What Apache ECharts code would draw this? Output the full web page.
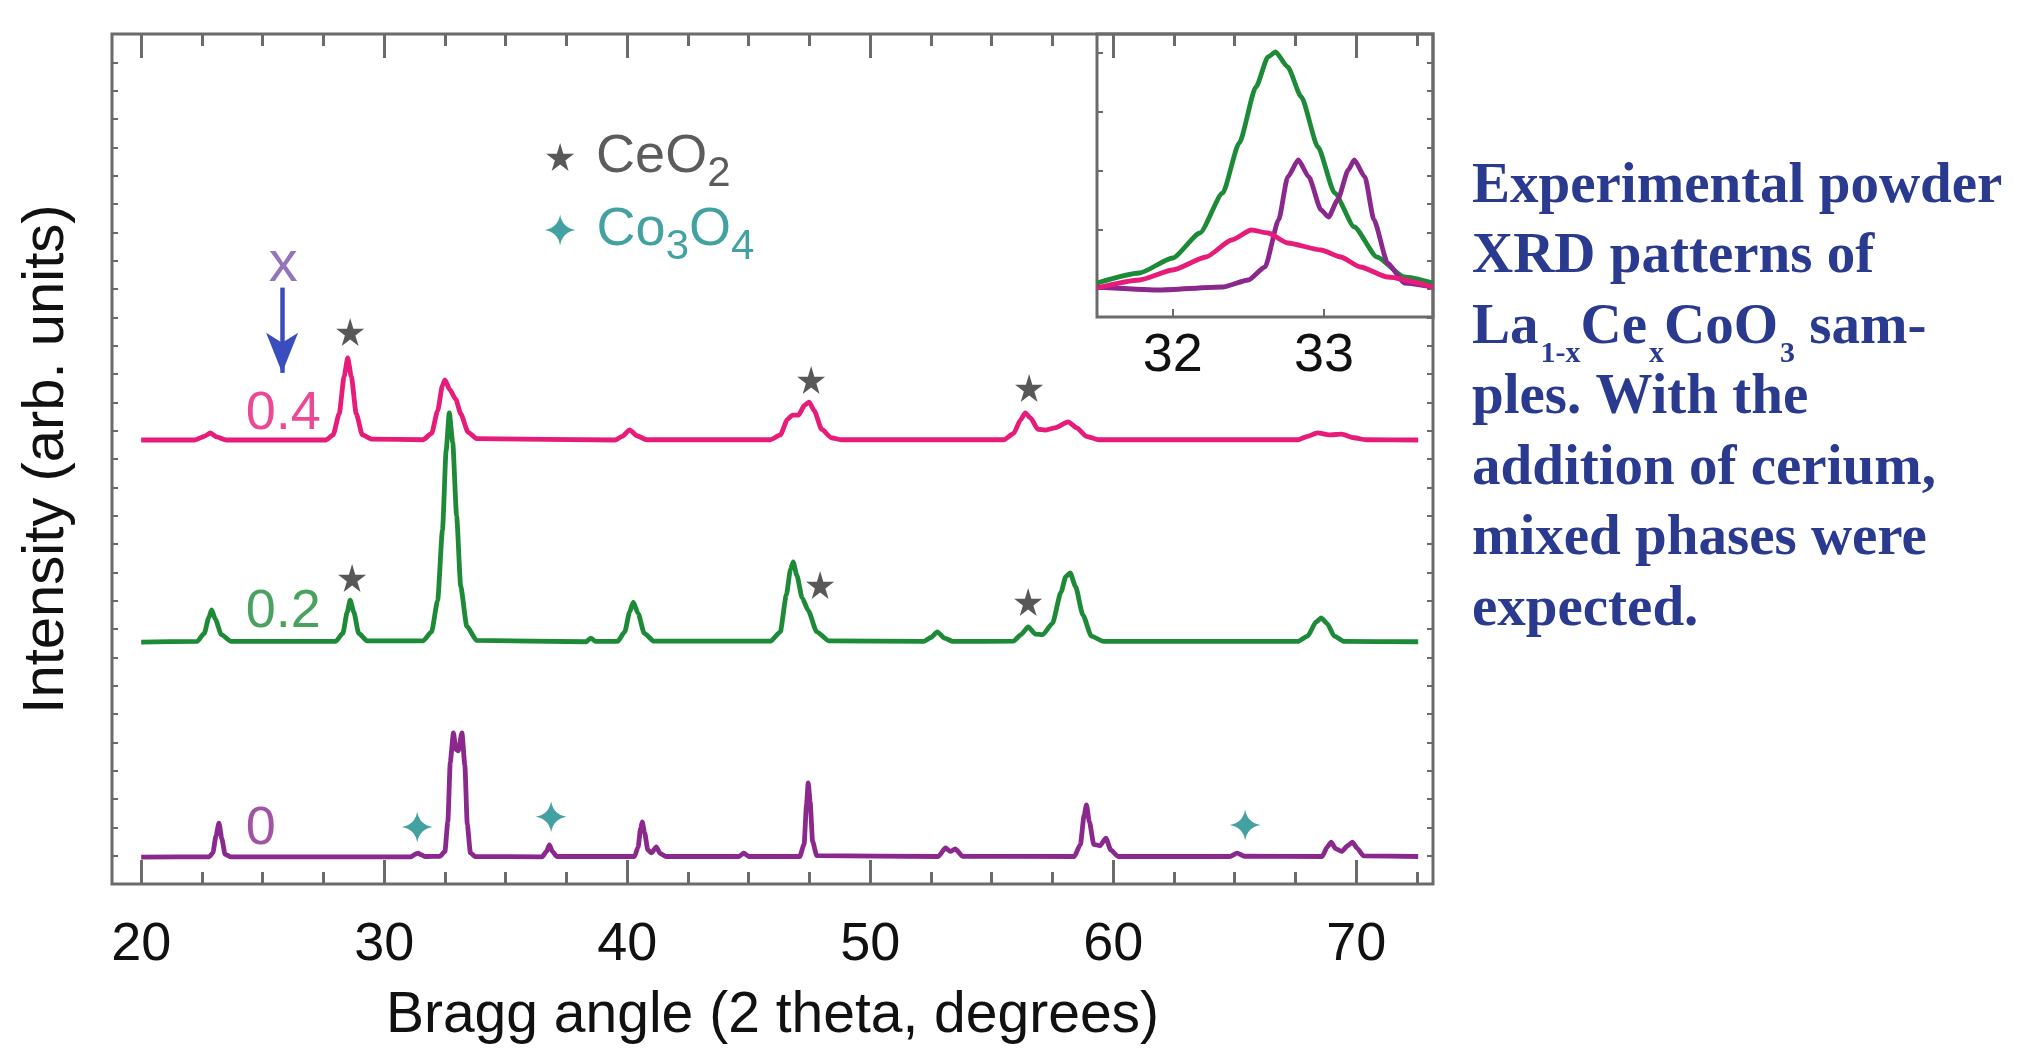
<!DOCTYPE html>
<html>
<head>
<meta charset="utf-8">
<title>XRD La1-xCexCoO3</title>
<script src="https://cdn.jsdelivr.net/npm/echarts@6/dist/echarts.min.js"></script>
<style>
  html, body { margin: 0; padding: 0; background: #ffffff; }
  #main { width: 2022px; height: 1049px; }
</style>
</head>
<body>
<div id="main"></div>
<script>
  // 2 theta (deg), intensity (arb. units, vertical offset of each sample included)
  var curveX04 = [
    [20.0, 15.67], [22.2, 15.67], [22.6, 15.8], [22.85, 15.92], [23.1, 15.78], [23.5, 15.67],
    [27.6, 15.67], [27.9, 15.85], [28.15, 16.6], [28.35, 17.9], [28.5, 18.57], [28.65, 17.9], [28.85, 16.6], [29.1, 15.85], [29.5, 15.7],
    [31.6, 15.68], [31.95, 15.9], [32.2, 16.7], [32.4, 17.6], [32.5, 17.79], [32.7, 17.45], [32.95, 17.1], [33.15, 16.6], [33.45, 15.95], [33.8, 15.72],
    [39.5, 15.67], [39.8, 15.8], [40.1, 16.03], [40.4, 15.82], [40.8, 15.68],
    [45.9, 15.68], [46.3, 15.85], [46.6, 16.4], [46.8, 16.55], [47.05, 16.55], [47.3, 16.9], [47.49, 17.01], [47.7, 16.7], [48.0, 16.05], [48.4, 15.75], [48.8, 15.68],
    [55.5, 15.68], [55.9, 15.9], [56.2, 16.4], [56.38, 16.63], [56.6, 16.45], [56.9, 16.05], [57.2, 16.02], [57.6, 16.1], [58.15, 16.31], [58.5, 16.1], [58.9, 15.8], [59.4, 15.68],
    [67.6, 15.68], [68.0, 15.8], [68.4, 15.92], [68.9, 15.85], [69.4, 15.88], [69.9, 15.75], [70.4, 15.68], [72.55, 15.67]
  ];
  var curveX02 = [
    [20.0, 8.54], [22.3, 8.56], [22.6, 8.85], [22.78, 9.4], [22.9, 9.67], [23.05, 9.35], [23.3, 8.8], [23.7, 8.56],
    [28.0, 8.56], [28.3, 8.85], [28.48, 9.6], [28.6, 10.02], [28.75, 9.6], [28.95, 8.85], [29.3, 8.58],
    [31.6, 8.58], [31.95, 8.9], [32.2, 10.0], [32.4, 12.5], [32.55, 15.3], [32.68, 16.63], [32.82, 15.6], [32.98, 13.0], [33.15, 10.5], [33.4, 9.1], [33.8, 8.6],
    [38.3, 8.55], [38.5, 8.68], [38.7, 8.56],
    [39.6, 8.56], [39.9, 8.9], [40.1, 9.6], [40.25, 9.95], [40.45, 9.55], [40.7, 8.85], [41.1, 8.57],
    [45.9, 8.57], [46.3, 8.9], [46.55, 10.2], [46.72, 11.1], [46.83, 11.37], [46.98, 10.9], [47.2, 10.1], [47.45, 9.65], [47.8, 8.9], [48.3, 8.58],
    [52.2, 8.56], [52.5, 8.7], [52.76, 8.9], [53.05, 8.68], [53.4, 8.56],
    [55.9, 8.57], [56.2, 8.8], [56.5, 9.07], [56.8, 8.82], [57.1, 8.8], [57.5, 9.2], [57.85, 10.3], [58.05, 10.85], [58.23, 10.98], [58.45, 10.5], [58.75, 9.5], [59.1, 8.75], [59.6, 8.56],
    [67.6, 8.56], [68.0, 8.75], [68.35, 9.25], [68.56, 9.39], [68.8, 9.2], [69.1, 8.75], [69.5, 8.56], [72.55, 8.55]
  ];
  var curveX0 = [
    [20.0, 0.95], [22.8, 0.96], [22.95, 1.1], [23.08, 1.7], [23.2, 2.15], [23.32, 1.6], [23.45, 1.05], [23.7, 0.96],
    [31.1, 0.96], [31.3, 1.06], [31.4, 1.09], [31.5, 1.04], [31.7, 0.97],
    [32.3, 0.98], [32.5, 1.15], [32.62, 2.2], [32.72, 4.3], [32.85, 5.33], [32.95, 4.75], [33.05, 4.7], [33.2, 5.33], [33.32, 4.2], [33.42, 2.1], [33.55, 1.1], [33.75, 0.97],
    [36.5, 0.96], [36.68, 1.15], [36.8, 1.38], [36.92, 1.15], [37.1, 0.97],
    [40.3, 0.97], [40.45, 1.3], [40.55, 1.95], [40.62, 2.19], [40.72, 1.8], [40.85, 1.2], [41.0, 1.1], [41.2, 1.31], [41.35, 1.08], [41.6, 0.97],
    [44.6, 0.97], [44.8, 1.09], [45.0, 0.97],
    [47.1, 0.97], [47.28, 1.4], [47.38, 2.8], [47.45, 3.57], [47.53, 2.9], [47.63, 1.5], [47.8, 1.0],
    [52.8, 0.97], [53.1, 1.27], [53.3, 1.15], [53.5, 1.24], [53.8, 0.98],
    [58.4, 0.97], [58.65, 1.4], [58.8, 2.4], [58.9, 2.79], [59.02, 2.2], [59.2, 1.4], [59.45, 1.35], [59.7, 1.62], [59.9, 1.2], [60.2, 0.97],
    [64.8, 0.97], [65.1, 1.09], [65.4, 0.98],
    [68.6, 0.97], [68.8, 1.3], [68.97, 1.48], [69.15, 1.25], [69.4, 1.15], [69.65, 1.35], [69.84, 1.48], [70.05, 1.25], [70.3, 0.99], [72.55, 0.97]
  ];

  // inset, zoom on the 32-33 deg peak (no offsets)
  var insetX02 = [
    [31.5, 34], [31.78, 44], [32.0, 59], [32.18, 84], [32.33, 124], [32.44, 174], [32.55, 230], [32.63, 260], [32.68, 265],
    [32.76, 250], [32.85, 220], [32.96, 170], [33.07, 124], [33.2, 90], [33.35, 60], [33.53, 40], [33.72, 34]
  ];
  var insetX0 = [
    [31.5, 30], [31.9, 27], [32.33, 30], [32.5, 37], [32.61, 50], [32.7, 97], [32.76, 140], [32.83, 157], [32.9, 140],
    [32.98, 107], [33.03, 100], [33.09, 117], [33.16, 147], [33.2, 157], [33.27, 140], [33.33, 97], [33.42, 54], [33.53, 34], [33.72, 30]
  ];
  var insetX04 = [
    [31.5, 29], [31.78, 37], [32.0, 47], [32.22, 60], [32.39, 77], [32.52, 87], [32.63, 84], [32.76, 74],
    [32.98, 67], [33.11, 60], [33.24, 50], [33.42, 40], [33.72, 30]
  ];

  // phase markers
  var ceo2Marks = [[28.6, 19.48], [47.57, 17.79], [56.54, 17.51], [28.68, 10.8], [47.94, 10.55], [56.5, 9.95]];
  var co3o4Marks = [[31.36, 2.01], [36.87, 2.37], [65.43, 2.08]];
  var ceo2Legend = [37.24, 25.66];
  var co3o4Legend = [37.24, 23.08];

  var sampleNames = ['0.4', '0.2', '0'];
  var sampleNamePos = [[24.28, 16.6], [24.28, 9.6], [24.28, 1.94]];
  var xLabelPos = [25.85, 21.85];
  var arrowFrom = [25.8, 21.05];
  var arrowTo = [25.8, 18.04];

  var majorTicks = [20, 30, 40, 50, 60, 70];
  var minorTicks = [22.5, 25, 27.5, 32.5, 35, 37.5, 42.5, 45, 47.5, 52.5, 55, 57.5, 62.5, 65, 67.5, 72.5];
  var insetTicks = [32, 33];
  var insetYTicks = [28, 87, 146, 205, 264];

  var captionLines = [
    'Experimental powder',
    'XRD patterns of',
    '{n|La}{s|1-x}{n|Ce}{s|x}{n|CoO}{s|3}{n| sam-}',
    'ples. With the',
    'addition of cerium,',
    'mixed phases were',
    'expected.'
  ];

  var pink = '#e61b7a', green = '#1d8a38', purple = '#8a288d', teal = '#14898a';
  var frameColor = '#6b6b6b';
  var captionColor = '#2a3a8e';
  var sansFont = '"Liberation Sans", Arial, Helvetica, sans-serif';
  var serifFont = '"Liberation Serif", "Times New Roman", serif';
  var starPath = 'path://M50,0 L61,35 L98,35 L68,57 L79,91 L50,70 L21,91 L32,57 L2,35 L39,35 Z';
  var sparklePath = 'path://M50,0 Q57,43 100,50 Q57,57 50,100 Q43,57 0,50 Q43,43 50,0 Z';

  function xAxisDef(position, ticks, len, withLabel) {
    return {
      type: 'value', gridIndex: 0, position: position,
      min: 18.8, max: 73.16,
      axisLine: {show: false},
      splitLine: {show: false},
      axisTick: {show: true, inside: true, length: len, customValues: ticks, lineStyle: {color: frameColor, width: 3}},
      axisLabel: {show: withLabel, customValues: ticks, color: '#111', fontSize: 54, fontFamily: sansFont, margin: 34},
      name: withLabel ? 'Bragg angle (2 theta, degrees)' : '',
      nameLocation: 'middle', nameGap: 104,
      nameTextStyle: {color: '#111', fontSize: 57, fontFamily: sansFont}
    };
  }
  function yAxisDef(position, withName) {
    return {
      type: 'value', gridIndex: 0, position: position,
      min: 0, max: 30, interval: 1,
      axisLine: {show: false},
      splitLine: {show: false},
      axisTick: {show: true, inside: true, length: 6, lineStyle: {color: frameColor, width: 2}},
      axisLabel: {show: false},
      name: withName ? 'Intensity (arb. units)' : '',
      nameLocation: 'middle', nameGap: 36, nameRotate: 90,
      nameTextStyle: {color: '#111', fontSize: 58, fontFamily: sansFont}
    };
  }
  function curve(data, color, xi, yi) {
    return {
      type: 'line', data: data, xAxisIndex: xi, yAxisIndex: yi,
      showSymbol: false, smooth: 0.2, smoothMonotone: 'x',
      lineStyle: {color: color, width: 4.8}, z: 3, silent: true
    };
  }
  function subRich(color) {
    return {
      n: {fontSize: 54, lineHeight: 54, color: color, fontFamily: sansFont},
      s: {fontSize: 42, lineHeight: 42, color: color, fontFamily: sansFont, padding: [34, 0, 0, 0]}
    };
  }

  var labelData = sampleNamePos.map(function (p, i) {
    return {
      value: p,
      label: {show: true, position: 'right', distance: 0, formatter: sampleNames[i],
        color: [pink, green, purple][i], fontSize: 54, fontFamily: sansFont}
    };
  });
  labelData.push({
    value: xLabelPos,
    label: {show: true, position: 'inside', formatter: 'x', color: '#7a52a8', fontSize: 58, fontFamily: sansFont}
  });

  // caption at the right, one text per line, centred on its line
  var captionGraphics = captionLines.map(function (line, i) {
    return {
      type: 'text', x: 1472, y: 187 + i * 70.5, silent: true,
      style: {
        text: line,
        fill: captionColor,
        font: 'bold 57px ' + serifFont,
        align: 'left',
        verticalAlign: 'middle',
        rich: {
          n: {fontSize: 57, fontWeight: 'bold', fontFamily: serifFont, fill: captionColor, lineHeight: 57},
          s: {fontSize: 30, fontWeight: 'bold', fontFamily: serifFont, fill: captionColor, lineHeight: 30, padding: [52, 0, 0, 2]}
        }
      }
    };
  });

  var option = {
    backgroundColor: '#ffffff',
    animation: false,
    grid: [
      {left: 112, top: 34, width: 1321, height: 850, show: true, borderColor: frameColor, borderWidth: 3,
        outerBoundsMode: 'none', containLabel: false},
      {left: 1097, top: 34, width: 336, height: 283, show: true, borderColor: frameColor, borderWidth: 3,
        outerBoundsMode: 'none', containLabel: false}
    ],
    xAxis: [
      xAxisDef('bottom', majorTicks, 24, true),
      xAxisDef('bottom', minorTicks, 12, false),
      xAxisDef('top', majorTicks, 24, false),
      xAxisDef('top', minorTicks, 12, false),
      {
        type: 'value', gridIndex: 1, position: 'bottom', min: 31.5, max: 33.72,
        axisLine: {show: false}, splitLine: {show: false},
        axisTick: {show: true, inside: true, length: 8, customValues: insetTicks, lineStyle: {color: frameColor, width: 2}},
        axisLabel: {show: true, customValues: insetTicks, color: '#111', fontSize: 54, fontFamily: sansFont, margin: 12}
      }
    ],
    yAxis: [
      yAxisDef('left', true),
      yAxisDef('right', false),
      {
        type: 'value', gridIndex: 1, min: 0, max: 283,
        axisLine: {show: false}, splitLine: {show: false},
        axisTick: {show: true, inside: true, length: 6, customValues: insetYTicks, lineStyle: {color: frameColor, width: 2}},
        axisLabel: {show: false, customValues: insetYTicks}
      }
    ],
    graphic: captionGraphics,
    series: [
      curve(curveX04, pink, 0, 0),
      curve(curveX02, green, 0, 0),
      curve(curveX0, purple, 0, 0),
      {
        type: 'scatter', xAxisIndex: 0, yAxisIndex: 0, symbol: starPath, symbolSize: 28,
        itemStyle: {color: '#2e2e2e'}, z: 5, silent: true,
        data: ceo2Marks.concat([{
          value: ceo2Legend,
          label: {show: true, position: 'right', distance: 22, formatter: '{n|CeO}{s|2}', rich: subRich('#333')}
        }])
      },
      {
        type: 'scatter', xAxisIndex: 0, yAxisIndex: 0, symbol: sparklePath, symbolSize: 31,
        itemStyle: {color: teal}, z: 5, silent: true,
        data: co3o4Marks.concat([{
          value: co3o4Legend,
          label: {show: true, position: 'right', distance: 21, formatter: '{n|Co}{s|3}{n|O}{s|4}', rich: subRich(teal)}
        }])
      },
      {
        type: 'scatter', xAxisIndex: 0, yAxisIndex: 0, symbolSize: 1,
        itemStyle: {color: 'rgba(0,0,0,0)'}, z: 6, silent: true,
        data: labelData,
        markLine: {
          silent: true, symbol: ['none', 'arrow'], symbolSize: [24, 40],
          lineStyle: {color: '#3a4dbf', width: 4.5, type: 'solid'},
          label: {show: false},
          data: [[{coord: arrowFrom}, {coord: arrowTo}]]
        }
      },
      curve(insetX02, green, 4, 2),
      curve(insetX0, purple, 4, 2),
      curve(insetX04, pink, 4, 2)
    ]
  };

  var chart = echarts.init(document.getElementById('main'));
  chart.setOption(option);
</script>
</body>
</html>
